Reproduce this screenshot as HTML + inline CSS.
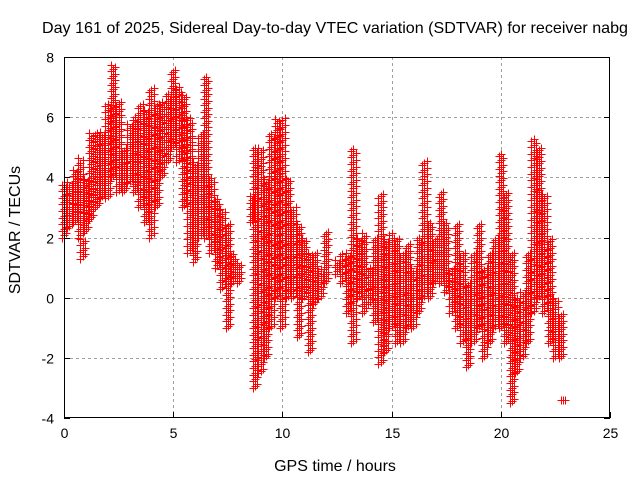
<!DOCTYPE html>
<html><head><meta charset="utf-8"><style>
html,body{margin:0;padding:0;background:#fff;}
svg{display:block;font-family:"Liberation Sans",sans-serif;}
</style></head><body>
<svg id="chart" width="640" height="480" viewBox="0 0 640 480">
<rect width="640" height="480" fill="#fff"/>
<text x="335" y="33" text-anchor="middle" font-size="16" textLength="586" lengthAdjust="spacingAndGlyphs" fill="#000">Day 161 of 2025, Sidereal Day-to-day VTEC variation (SDTVAR) for receiver nabg</text>
<g id="grid"></g>
<g id="marks"></g>
<rect x="64.5" y="57.5" width="545" height="360" fill="none" stroke="#000" stroke-width="1"/>
<g id="ticks"></g>
<text x="335" y="471" text-anchor="middle" font-size="16">GPS time / hours</text>
<text transform="translate(20,230) rotate(-90)" text-anchor="middle" font-size="16">SDTVAR / TECUs</text>
</svg>
<script>
const xTicks=[0,5,10,15,20,25];
const yTicks=[-4,-2,0,2,4,6,8];
const times=[0,0.25,0.5,0.75,0.85,1,1.25,1.5,1.75,2,2.25,2.5,2.75,3,3.25,3.5,3.75,4,4.25,4.5,4.75,5,5.25,5.5,5.75,6,6.25,6.5,6.75,7,7.25,7.5,7.75,8,8.6,8.75,9,9.25,9.5,9.75,10,10.25,10.5,10.75,11,11.25,11.5,11.75,12,12.5,12.75,13,13.25,13.5,13.75,14,14.25,14.5,14.75,15,15.25,15.5,15.75,16,16.25,16.5,16.75,17,17.25,17.5,17.75,18,18.25,18.5,18.75,19,19.25,19.5,19.75,20,20.25,20.5,20.75,21,21.25,21.5,21.75,22,22.25,22.5,22.75,22.85];
const lows=[2.0,2.3,2.5,2.0,1.3,2.2,2.6,3.0,3.3,3.3,4.0,3.5,3.5,3.8,3.5,3.0,2.5,2.0,3.0,4.0,4.5,5.0,4.5,3.0,1.5,1.2,2.0,2.0,1.5,1.0,0.3,-1.0,0.5,0.5,2.5,-3.0,-2.5,-2.0,-1.0,0.0,-1.0,0.0,0.0,-1.3,0.0,-1.8,-0.2,0.0,0.5,0.8,0.5,-0.5,-1.5,0.0,-0.5,-0.2,-0.8,-2.2,-1.8,-1.0,-1.5,-1.5,-1.0,-1.0,-0.5,0.0,0.0,0.5,0.5,0.2,-0.5,-1.0,-1.5,-2.3,-1.5,-1.0,-2.0,-1.5,-1.0,-1.0,-1.5,-3.5,-2.5,-2.0,-1.5,-0.5,0.0,-0.5,-1.5,-2.0,-2.0,-3.4];
const highs=[3.8,3.9,4.3,4.7,2.0,4.0,5.5,5.5,5.5,6.5,7.8,6.5,5.0,5.8,6.0,6.5,6.3,7.0,6.5,6.5,6.8,7.6,7.0,6.8,6.0,4.5,5.5,7.4,4.0,3.3,3.0,2.5,1.5,1.2,3.4,5.0,5.0,4.0,5.5,6.0,6.0,4.0,3.0,2.5,2.0,1.5,1.5,1.0,2.2,1.3,1.5,1.5,5.0,2.0,2.2,1.0,2.0,3.5,2.0,2.2,2.0,1.5,1.8,1.0,2.0,4.6,2.5,2.0,3.5,2.5,1.0,2.5,1.5,0.5,1.5,2.5,1.0,1.5,2.0,4.8,3.5,1.5,0.0,0.2,1.5,5.3,5.0,3.5,2.0,0.0,-0.5,-3.4];
const X0=64,X1=610,Y0=418,Y1=57;
const xs=v=>X0+(v-0)/25*(X1-X0);
const ys=v=>Y0-(v+4)/12*(Y0-Y1);
const NS="http://www.w3.org/2000/svg";
const grid=document.getElementById('grid'),ticks=document.getElementById('ticks'),marks=document.getElementById('marks');
function mk(tag,attrs,parent){const e=document.createElementNS(NS,tag);for(const k in attrs)e.setAttribute(k,attrs[k]);parent.appendChild(e);return e;}
xTicks.forEach(t=>{
  const x=Math.round(xs(t))+0.5;
  if(t>0&&t<25){const g=mk('line',{x1:x,x2:x,y1:Y1,y2:Y0,stroke:'#a0a0a0','stroke-dasharray':'3,3'},grid);
  
  }
  const tl=mk('line',{x1:x,x2:x,y1:Y0,y2:Y0-6,stroke:'#000'},ticks);
  
  
  const tt=mk('text',{x:x,y:Y0+20,'text-anchor':'middle','font-size':14},ticks);tt.textContent=t;
  
  
});
yTicks.forEach(t=>{
  const y=Math.round(ys(t))+0.5;
  if(t>-4&&t<8){const g=mk('line',{x1:X0,x2:X1,y1:y,y2:y,stroke:'#a0a0a0','stroke-dasharray':'3,3'},grid);
  
  }
  const tl=mk('line',{x1:X0,x2:X0+6,y1:y,y2:y,stroke:'#000'},ticks);
  
  
  const tr=mk('line',{x1:X1,x2:X1-6,y1:y,y2:y,stroke:'#000'},ticks);
  
  
  const tt=mk('text',{x:X0-10,y:y+5,'text-anchor':'end','font-size':14},ticks);tt.textContent=t;
  
  
});
let d='';
const offs=[-0.1,0,0.1];
function plus(x,y){x=Math.round(x)+0.5;y=Math.round(y)+0.5;d+=`M${x-4} ${y}h8M${x} ${y-4}v8`;}
times.forEach((t,i)=>{
  const lo=lows[i],hi=highs[i];
  offs.forEach((o,j)=>{
    for(let v=lo+(j*0.07);v<=hi+0.001;v+=0.22){plus(xs(t+o),ys(v));}
    if(lo===hi){plus(xs(t+o),ys(lo));}
  });
});
const p=mk('path',{d:d,stroke:'#ff0000','stroke-width':1,fill:'none','shape-rendering':'crispEdges'},marks);


</script>
</body></html>
